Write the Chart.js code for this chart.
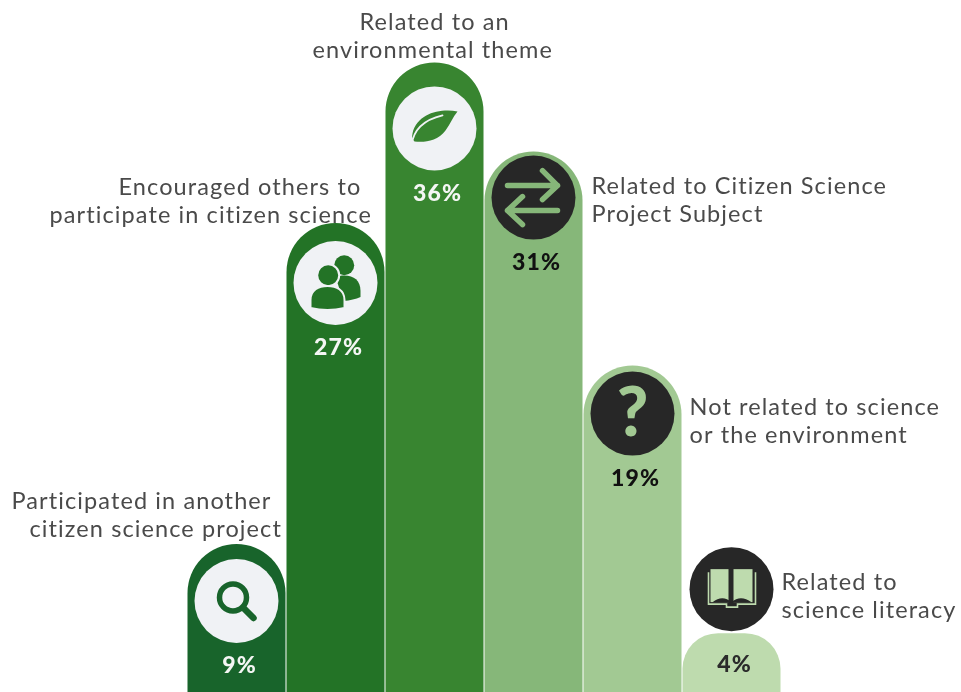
<!DOCTYPE html>
<html>
<head>
<meta charset="utf-8">
<style>
  html, body { margin: 0; padding: 0; background: #fff; overflow: hidden; }
  canvas { display: block; }
</style>
<script src="https://cdn.jsdelivr.net/npm/chart.js@4"></script>
</head>
<body>
<canvas id="themeChart" width="961" height="692"></canvas>
<script>
const categories = [
  'Participated in another citizen science project',
  'Encouraged others to participate in citizen science',
  'Related to an environmental theme',
  'Related to Citizen Science Project Subject',
  'Not related to science or the environment',
  'Related to science literacy'
];
const shares = [9, 27, 36, 31, 19, 4];
const barColors = ['#18642b', '#237326', '#388530', '#86b779', '#a2c993', '#bedbae'];

const labelFont = '23.5px Lato';
const labelSpacing = '1.1px';
const valueFont = '900 23px Lato';

// callout text, one entry per bar: [text, x offset from bar centre, y offset from bar top]
const callouts = [
  [['Participated in another', -225, -43], ['citizen science project', -207, -15]],
  [['Encouraged others to', -217, -36], ['participate in citizen science', -286, -8]],
  [['Related to an', -75, -40], ['environmental theme', -122, -12]],
  [['Related to Citizen Science', 58, 35], ['Project Subject', 58, 63]],
  [['Not related to science', 57, 42], ['or the environment', 57, 70]],
  [['Related to', 50, -51], ['science literacy', 50, -23]]
];

// icon centre below the bar top, negative means above it
const iconOffsets = [57, 60, 66, 46, 48, -44];
const iconRadius = 42;

const icons = [
  function search(ctx, c) {
    ctx.strokeStyle = c;
    ctx.lineWidth = 5.5;
    ctx.lineCap = 'round';
    ctx.beginPath();
    ctx.arc(-3.5, -3.5, 13.5, 0, Math.PI * 2);
    ctx.stroke();
    ctx.lineWidth = 6.5;
    ctx.beginPath();
    ctx.moveTo(7, 7);
    ctx.lineTo(17, 17);
    ctx.stroke();
  },
  function people(ctx, c) {
    ctx.fillStyle = c;
    ctx.beginPath();
    ctx.arc(8.7, -17.7, 10, 0, Math.PI * 2);
    ctx.fill();
    ctx.beginPath();
    ctx.moveTo(4, -7);
    ctx.bezierCurveTo(16, -9, 25, -4, 25, 8);
    ctx.lineTo(25, 14);
    ctx.quadraticCurveTo(18, 17, 8, 18);
    ctx.lineTo(2, 0);
    ctx.closePath();
    ctx.fill();
    ctx.strokeStyle = '#f0f2f5';
    ctx.lineWidth = 2;
    ctx.beginPath();
    ctx.arc(-7.3, -7.7, 11, 0, Math.PI * 2);
    ctx.fillStyle = c;
    ctx.fill();
    ctx.stroke();
    ctx.beginPath();
    ctx.moveTo(-25, 25);
    ctx.lineTo(-25, 17);
    ctx.bezierCurveTo(-25, 7, -17, 3, -8, 3);
    ctx.bezierCurveTo(1, 3, 9, 7, 9, 17);
    ctx.lineTo(9, 25);
    ctx.quadraticCurveTo(-8, 29, -25, 25);
    ctx.closePath();
    ctx.fill();
    ctx.stroke();
  },
  function leaf(ctx, c) {
    ctx.fillStyle = c;
    ctx.beginPath();
    ctx.moveTo(23, -17);
    ctx.bezierCurveTo(5, -20, -17, -15, -22, 5);
    ctx.bezierCurveTo(-23, 9, -22, 11, -20, 13);
    ctx.bezierCurveTo(-10, 14, 3, 13, 11, 2);
    ctx.bezierCurveTo(16, -5, 18, -11, 23, -17);
    ctx.closePath();
    ctx.fill();
    ctx.strokeStyle = '#f0f2f5';
    ctx.lineWidth = 1.8;
    ctx.lineCap = 'round';
    ctx.beginPath();
    ctx.moveTo(-23, 17);
    ctx.bezierCurveTo(-21, 0, -9, -9, 8, -13);
    ctx.stroke();
  },
  function arrows(ctx, c) {
    ctx.strokeStyle = c;
    ctx.lineWidth = 5.5;
    ctx.lineCap = 'round';
    ctx.lineJoin = 'round';
    ctx.beginPath();
    ctx.moveTo(-26, -12);
    ctx.lineTo(24, -12);
    ctx.moveTo(9, -27);
    ctx.lineTo(24, -12);
    ctx.lineTo(9, 2);
    ctx.moveTo(24, 13);
    ctx.lineTo(-26, 13);
    ctx.moveTo(-11, -1);
    ctx.lineTo(-26, 13);
    ctx.lineTo(-11, 27);
    ctx.stroke();
  },
  function question(ctx, c) {
    ctx.fillStyle = c;
    ctx.font = '900 68px Lato';
    ctx.textAlign = 'center';
    ctx.textBaseline = 'middle';
    ctx.fillText('?', 0, 0);
  },
  function book(ctx, c) {
    ctx.fillStyle = c;
    ctx.fillRect(-21, -20, 18, 33);
    ctx.fillRect(2, -20, 19, 33);
    ctx.strokeStyle = c;
    ctx.lineWidth = 1.6;
    ctx.beginPath();
    ctx.moveTo(-23, -17);
    ctx.lineTo(-23, 15);
    ctx.lineTo(-5, 15);
    ctx.lineTo(-5, 18);
    ctx.lineTo(6, 18);
    ctx.lineTo(6, 15);
    ctx.lineTo(24, 15);
    ctx.lineTo(24, -17);
    ctx.stroke();
    ctx.fillStyle = '#272727';
    ctx.beginPath();
    ctx.moveTo(-19, 13);
    ctx.quadraticCurveTo(-9, 5, 0, 13);
    ctx.quadraticCurveTo(9, 5, 20, 13);
    ctx.closePath();
    ctx.fill();
  }
];

const badgePlugin = {
  id: 'badges',
  afterDatasetsDraw(chart) {
    const { ctx } = chart;
    chart.getDatasetMeta(0).data.forEach((bar, i) => {
      const light = i < 3;
      const cy = bar.y + iconOffsets[i];

      // icon disc and glyph
      ctx.save();
      ctx.fillStyle = light ? '#f0f2f5' : '#272727';
      ctx.beginPath();
      ctx.arc(bar.x, cy, iconRadius, 0, Math.PI * 2);
      ctx.fill();
      ctx.translate(bar.x, cy);
      icons[i](ctx, barColors[i]);
      ctx.restore();

      // value label
      ctx.save();
      ctx.font = valueFont;
      ctx.letterSpacing = labelSpacing;
      ctx.textAlign = 'center';
      ctx.textBaseline = 'middle';
      ctx.fillStyle = light ? '#f4f6f4' : i === 5 ? '#2b2b2b' : '#111';
      const vy = i === 5 ? bar.y + 31 : cy + 65;
      ctx.fillText(shares[i] + '%', bar.x + 3, vy);
      ctx.restore();

      // callout text
      ctx.save();
      ctx.font = labelFont;
      ctx.letterSpacing = labelSpacing;
      ctx.textAlign = 'left';
      ctx.textBaseline = 'middle';
      ctx.fillStyle = '#4a4a4a';
      callouts[i].forEach(([text, dx, dy]) => ctx.fillText(text, bar.x + dx, bar.y + dy));
      ctx.restore();
    });
  }
};

new Chart(document.getElementById('themeChart'), {
  type: 'bar',
  data: {
    labels: categories,
    datasets: [{
      data: shares,
      backgroundColor: barColors,
      barPercentage: 0.99,
      categoryPercentage: 1,
      borderRadius: { topLeft: 50, topRight: 50, bottomLeft: 0, bottomRight: 0 }
    }]
  },
  options: {
    responsive: false,
    animation: false,
    layout: { padding: { left: 187, right: 180, top: 0, bottom: 0 } },
    plugins: { legend: { display: false }, tooltip: { enabled: false } },
    scales: {
      x: { display: false },
      y: { display: false, min: 0.7, max: 39.5 }
    }
  },
  plugins: [badgePlugin]
});
</script>
</body>
</html>
